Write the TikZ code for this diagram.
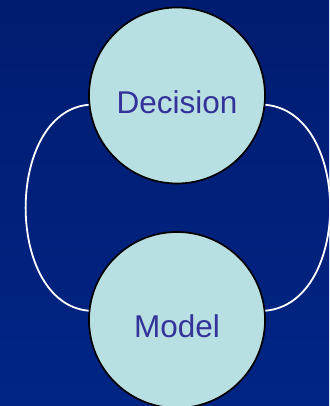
\documentclass[tikz,border=0pt]{standalone}
\usepackage{fontspec}
\setmainfont{Liberation Sans}
\usetikzlibrary{positioning}

\definecolor{bgtop}{HTML}{001C70}
\definecolor{bgbot}{HTML}{002585}
\definecolor{bubble}{HTML}{B8E0E2}
\definecolor{labeltext}{HTML}{333399}

\tikzset{
  bubble/.style={circle, draw=black, line width=1.7pt, fill=bubble,
    minimum size=176pt, inner sep=0pt},
  bubbletext/.style={text=labeltext, font=\fontsize{31.5}{31.5}\selectfont},
  loopline/.style={draw=white, line width=1.8pt}
}

\begin{document}
\begin{tikzpicture}[x=1pt,y=1pt]
			% Background
			\shade[top color=bgtop, bottom color=bgbot] (0,0) rectangle (329,406);
			\useasboundingbox (0,0) rectangle (329,406);
			% Circles
			\node[bubble, label={[bubbletext, yshift=-7pt]center:Decision}] (decision) at (177,310.5) {};
			\node[bubble, label={[bubbletext, yshift=-6pt]center:Model}] (model) at (177,86) {};
			% Loop lines
			\draw[loopline] (decision.186) to[out=185,in=175,looseness=1.05] (model.174);
			\draw[loopline] (decision.-6) to[out=-5,in=5,looseness=1.08] (model.6);
		\end{tikzpicture}
\end{document}
